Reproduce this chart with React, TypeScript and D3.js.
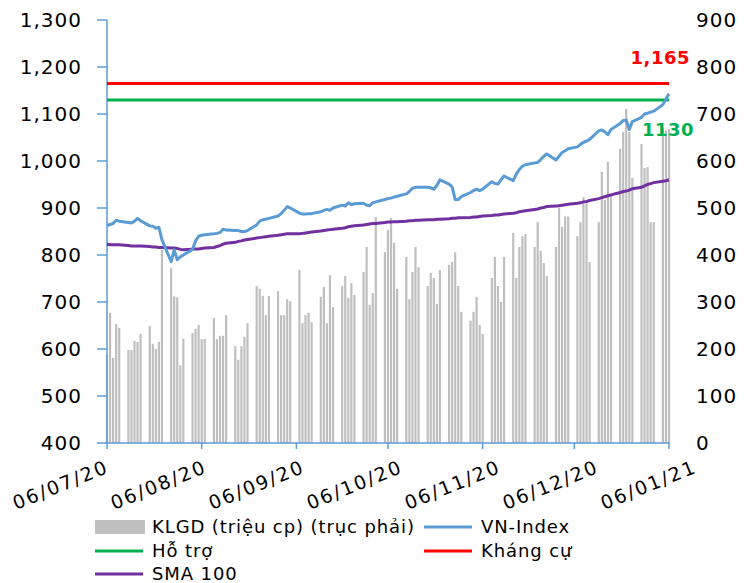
import React from 'react'
import * as d3 from 'd3'

// phiên giao dịch: 06/07/2020 -> 06/01/2021 (ngày làm việc)
const startDay = new Date(Date.UTC(2020, 6, 6))
const endDay = new Date(Date.UTC(2021, 0, 7))
const days = d3.utcDay.range(startDay, endDay).filter(d => d.getUTCDay() !== 0 && d.getUTCDay() !== 6)

// KLGD (triệu cp), theo tuần
const volume = [
  187, 277, 181, 253, 245,
  198, 198, 217, 215, 232,
  249, 211, 200, 215, 411,
  372, 312, 310, 165, 222,
  234, 243, 251, 221, 221,
  266, 221, 228, 228, 272,
  206, 177, 206, 226, 255,
  334, 328, 313, 272, 313,
  323, 272, 272, 306, 302,
  368, 255, 272, 277, 257,
  311, 332, 255, 357, 289,
  334, 355, 309, 340, 315,
  364, 417, 294, 319, 481,
  406, 453, 479, 426, 328,
  396, 306, 364, 417, 374,
  334, 362, 351, 296, 368,
  379, 385, 406, 334, 279,
  260, 279, 311, 251, 232,
  351, 396, 334, 300, 396,
  447, 351, 417, 440, 445,
  417, 470, 409, 383, 355,
  417, 500, 460, 482, 482,
  440, 470, 523, 510, 385,
  470, 577, 517, 598, 528,
  626, 662, 711, 662, 564,
  636, 585, 587, 470, 470,
  670, 665, 668,
]

const vnIndex = [
  862, 865, 867, 874, 872,
  869, 868, 872, 878, 873,
  862, 861, 857, 859, 832,
  786, 811, 790, 796, 800,
  812, 830, 840, 842, 843,
  845, 846, 848, 855, 853,
  852, 852, 850, 850, 852,
  864, 872, 875, 876, 878,
  883, 888, 895, 903, 900,
  889, 887, 887, 888, 888,
  892, 895, 897, 895, 900,
  906, 904, 911, 907, 909,
  910, 906, 905, 911, 913,
  918, 920, 921, 923, 925,
  930, 935, 942, 944, 944,
  944, 943, 940, 948, 960,
  951, 945, 918, 918, 924,
  933, 937, 940, 937, 940,
  956, 952, 951, 960, 968,
  958, 972, 982, 989, 992,
  996, 997, 1003, 1010, 1015,
  1002, 1010, 1018, 1022, 1026,
  1030, 1035, 1040, 1042, 1046,
  1064, 1066, 1062, 1056, 1067,
  1080, 1086, 1087, 1067, 1084,
  1093, 1100, 1102, 1104, 1106,
  1120, 1132, 1143,
]

const sma100 = [
  823, 822, 822, 822, 822,
  820, 819, 819, 819, 819,
  818, 817, 817, 816, 816,
  815, 815, 814, 812, 811,
  812, 813, 813, 814, 815,
  816, 818, 820, 823, 825,
  827, 829, 830, 832, 833,
  836, 837, 838, 839, 840,
  842, 843, 844, 845, 845,
  845, 846, 847, 848, 849,
  851, 852, 853, 854, 855,
  857, 858, 860, 861, 862,
  864, 865, 866, 867, 867,
  869, 870, 870, 871, 871,
  872, 873, 873, 874, 874,
  875, 875, 875, 876, 876,
  877, 878, 878, 879, 879,
  880, 881, 881, 882, 883,
  884, 885, 885, 886, 887,
  889, 890, 892, 893, 894,
  897, 898, 900, 901, 903,
  904, 905, 906, 907, 908,
  910, 911, 913, 914, 916,
  920, 922, 924, 926, 928,
  933, 935, 936, 938, 941,
  944, 947, 950, 952, 954,
  957, 958, 960,
]

const support = 1130
const resistance = 1165

const leftTicks = [400, 500, 600, 700, 800, 900, 1000, 1100, 1200, 1300]
const rightTicks = [0, 100, 200, 300, 400, 500, 600, 700, 800, 900]
const dateTicks = ['06/07/20', '06/08/20', '06/09/20', '06/10/20', '06/11/20', '06/12/20', '06/01/21']

const FONT = 'DejaVu Sans, Verdana, sans-serif'
const BLUE = '#5B9BD5'

export default function App() {
  const W = 751, H = 583
  const left = 107, right = 669, top = 20, bottom = 443

  const parse = d3.utcParse('%d/%m/%y')
  const x = d3.scaleUtc().domain([startDay, new Date(Date.UTC(2021, 0, 6))]).range([left, right])
  const yL = d3.scaleLinear().domain([400, 1300]).range([bottom, top])
  const yR = d3.scaleLinear().domain([0, 900]).range([bottom, top])
  // nhãn ngày được dàn đều (giống bản gốc)
  const labelX = d3.scalePoint<string>().domain(dateTicks).range([110, 698])

  const line = d3.line<number>().x((_, i) => x(days[i])).y(v => yL(v))
  const fmt = d3.format(',')

  const legend = [
    { kind: 'bar', label: 'KLGD (triệu cp) (trục phải)', color: '#BFBFBF', lx: 95, ly: 527 },
    { kind: 'line', label: 'VN-Index', color: BLUE, lx: 424, ly: 527 },
    { kind: 'line', label: 'Hỗ trợ', color: '#00B050', lx: 95, ly: 551 },
    { kind: 'line', label: 'Kháng cự', color: '#FF0000', lx: 424, ly: 551 },
    { kind: 'line', label: 'SMA 100', color: '#7030A0', lx: 95, ly: 574 },
  ]

  return (
    <svg width={W} height={H} style={{ position: 'absolute', left: 0, top: 0, background: '#fff' }}
      fontFamily={FONT}>
      {/* KLGD bars */}
      {volume.map((v, i) => (
        <rect key={'b' + i} x={x(days[i]) - 1.1} width={2.2} y={yR(v)} height={bottom - yR(v)} fill="#BFBFBF" />
      ))}

      {/* left axis */}
      <line x1={left} x2={left} y1={top} y2={bottom} stroke={BLUE} strokeWidth={1.5} />
      {leftTicks.map(t => (
        <g key={'l' + t}>
          <line x1={left - 10} x2={left} y1={yL(t)} y2={yL(t)} stroke={BLUE} strokeWidth={1.5} />
          <text x={82} y={yL(t)} dy="0.36em" textAnchor="end" fontSize={20} letterSpacing={1} fill="#000">{fmt(t)}</text>
        </g>
      ))}
      {rightTicks.map(t => (
        <text key={'r' + t} x={696} y={yR(t)} dy="0.36em" textAnchor="start" fontSize={20} letterSpacing={1} fill="#000">{t}</text>
      ))}

      {/* bottom axis */}
      <line x1={left} x2={right} y1={bottom} y2={bottom} stroke={BLUE} strokeWidth={1.5} />
      {dateTicks.map(s => {
        const tx = x(parse(s) as Date)
        return (
          <g key={s}>
            <line x1={tx} x2={tx} y1={bottom} y2={bottom + 6} stroke={BLUE} strokeWidth={1.5} />
            <text transform={`translate(${labelX(s)},${472}) rotate(-22)`} textAnchor="end" fontSize={19}
              letterSpacing={2} fill="#000">{s}</text>
          </g>
        )
      })}

      {/* support / resistance */}
      <line x1={left} x2={right} y1={yL(resistance)} y2={yL(resistance)} stroke="#FF0000" strokeWidth={3} />
      <line x1={left} x2={right} y1={yL(support)} y2={yL(support)} stroke="#00B050" strokeWidth={3} />

      <path d={line(sma100) || ''} fill="none" stroke="#7030A0" strokeWidth={3} />
      <path d={line(vnIndex) || ''} fill="none" stroke={BLUE} strokeWidth={3} strokeLinejoin="round" />

      <text x={690} y={64} textAnchor="end" fontSize={18} fontWeight="bold" letterSpacing={0.5} fill="#FF0000">{fmt(resistance)}</text>
      <text x={694} y={136} textAnchor="end" fontSize={18} fontWeight="bold" letterSpacing={0.5} fill="#00B050">{support}</text>

      {/* legend */}
      {legend.map(l => (
        <g key={l.label}>
          {l.kind === 'bar'
            ? <rect x={l.lx} y={l.ly - 7} width={50} height={14} fill={l.color} />
            : <line x1={l.lx} x2={l.lx + 48} y1={l.ly} y2={l.ly} stroke={l.color} strokeWidth={3} />}
          <text x={l.lx + 57} y={l.ly} dy="0.36em" fontSize={18} letterSpacing={0.9} fill="#000">{l.label}</text>
        </g>
      ))}
    </svg>
  )
}
